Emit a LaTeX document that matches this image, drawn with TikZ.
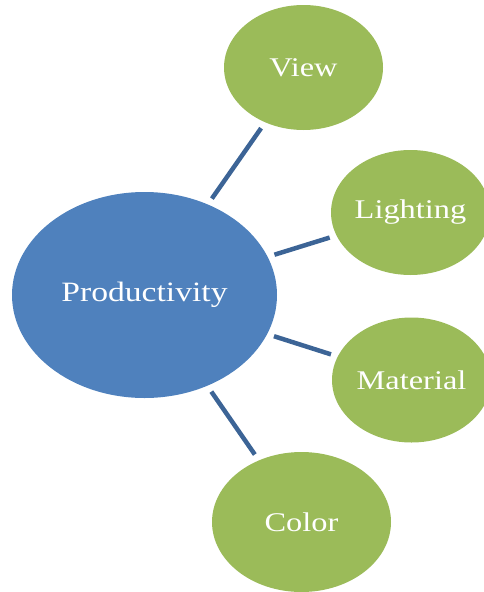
\documentclass[tikz,border=0pt]{standalone}
\usepackage{fontspec}
\setmainfont{Liberation Serif}
\usetikzlibrary{shapes.geometric,positioning}
\definecolor{myblue}{RGB}{79,129,189}
\definecolor{mygreen}{RGB}{155,187,89}
\definecolor{mylink}{RGB}{60,100,150}
\newcommand{\wide}[1]{\scalebox{1.2}[1]{#1}}
\tikzstyle{hub}=[fill=myblue,ellipse,text=white,inner sep=0pt,minimum width=265pt,minimum height=206pt,font=\fontsize{28}{28}\selectfont]
\tikzstyle{leaf}=[fill=mygreen,ellipse,text=white,inner sep=0pt,minimum width=159pt,minimum height=125pt,font=\fontsize{27}{27}\selectfont]
\tikzstyle{link}=[draw=mylink,line width=4.5pt,shorten >=7pt,shorten <=7pt]

\begin{document}
\begin{tikzpicture}[x=1pt,y=-1pt]
\clip (0,0) rectangle (484,592);
\useasboundingbox (0,0) rectangle (484,592);
\draw (144.5, 295) node [hub] (prod) {\wide{Productivity}};
\draw (303.5, 67.5) node [leaf] (view) {\wide{View}};
\draw (410.5, 212.5) node [leaf] (light) {\wide{Lighting}};
\draw (411.5, 380) node [leaf] (mat) {\wide{Material}};
\draw (301.5, 522) node [leaf,minimum width=179pt,minimum height=140pt] (col) {\wide{Color}};
\draw[link] (prod) -- (view);
\draw[link] (prod) -- (light);
\draw[link] (prod) -- (mat);
\draw[link] (prod) -- (col);
\end{tikzpicture}
\end{document}
